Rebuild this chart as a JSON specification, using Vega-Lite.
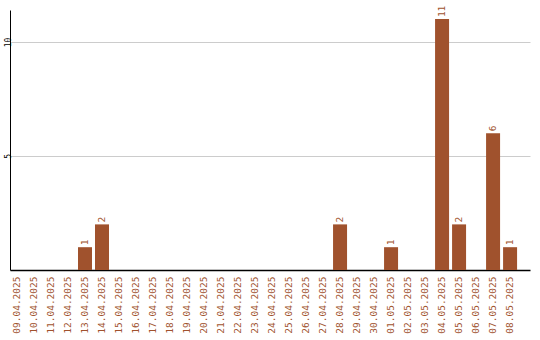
{
  "$schema": "https://vega.github.io/schema/vega-lite/v6.json",
  "autosize": "none",
  "width": 520,
  "height": 260,
  "padding": {"left": 10, "top": 10, "right": 10, "bottom": 70},
  "background": "white",
  "config": {
    "view": {"stroke": null},
    "font": "DejaVu Sans Mono"
  },
  "data": {
    "values": [
      {"date": "09.04.2025", "count": 0},
      {"date": "10.04.2025", "count": 0},
      {"date": "11.04.2025", "count": 0},
      {"date": "12.04.2025", "count": 0},
      {"date": "13.04.2025", "count": 1},
      {"date": "14.04.2025", "count": 2},
      {"date": "15.04.2025", "count": 0},
      {"date": "16.04.2025", "count": 0},
      {"date": "17.04.2025", "count": 0},
      {"date": "18.04.2025", "count": 0},
      {"date": "19.04.2025", "count": 0},
      {"date": "20.04.2025", "count": 0},
      {"date": "21.04.2025", "count": 0},
      {"date": "22.04.2025", "count": 0},
      {"date": "23.04.2025", "count": 0},
      {"date": "24.04.2025", "count": 0},
      {"date": "25.04.2025", "count": 0},
      {"date": "26.04.2025", "count": 0},
      {"date": "27.04.2025", "count": 0},
      {"date": "28.04.2025", "count": 2},
      {"date": "29.04.2025", "count": 0},
      {"date": "30.04.2025", "count": 0},
      {"date": "01.05.2025", "count": 1},
      {"date": "02.05.2025", "count": 0},
      {"date": "03.05.2025", "count": 0},
      {"date": "04.05.2025", "count": 11},
      {"date": "05.05.2025", "count": 2},
      {"date": "06.05.2025", "count": 0},
      {"date": "07.05.2025", "count": 6},
      {"date": "08.05.2025", "count": 1}
    ]
  },
  "encoding": {
    "x": {
      "field": "date",
      "type": "ordinal",
      "sort": null,
      "scale": {"paddingInner": 0.1765, "paddingOuter": 0.38, "align": 0},
      "axis": {
        "title": null,
        "labelAngle": 270,
        "labelAlign": "right",
        "labelBaseline": "middle",
        "labelFont": "DejaVu Sans Mono",
        "labelFontSize": 9.5,
        "labelColor": "#a0522d",
        "labelPadding": 6,
        "ticks": false,
        "domainColor": "#000000",
        "domainWidth": 1.5,
        "labelOverlap": false
      }
    },
    "y": {
      "field": "count",
      "type": "quantitative",
      "scale": {"domain": [0, 11.4], "nice": false},
      "axis": {
        "title": null,
        "values": [5, 10],
        "labelAngle": 270,
        "labelAlign": "center",
        "labelBaseline": "middle",
        "labelFont": "DejaVu Sans Mono",
        "labelFontSize": 8,
        "labelColor": "#000000",
        "labelPadding": 2,
        "ticks": false,
        "domainColor": "#000000",
        "domainWidth": 1,
        "gridColor": "#cccccc",
        "gridWidth": 1
      }
    }
  },
  "layer": [
    {
      "mark": {"type": "bar", "color": "#a0522d"}
    },
    {
      "transform": [{"filter": "datum.count > 0"}],
      "mark": {
        "type": "text",
        "angle": 270,
        "align": "left",
        "baseline": "middle",
        "dx": 2,
        "font": "DejaVu Sans Mono",
        "fontSize": 9.5,
        "color": "#a0522d"
      },
      "encoding": {"text": {"field": "count", "type": "quantitative"}}
    }
  ]
}
